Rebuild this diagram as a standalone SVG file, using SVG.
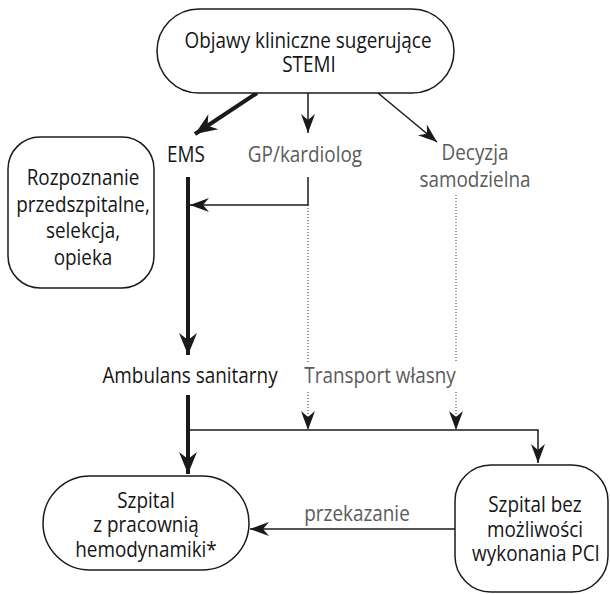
<svg xmlns="http://www.w3.org/2000/svg" width="610" height="594" viewBox="0 0 610 594">
<defs>
<style>
.box{fill:#fff;stroke:#1a1a1a;stroke-width:1.5}
.t{font-family:"Open Sans","Noto Sans","Liberation Sans",sans-serif;font-size:21px;font-weight:500;fill:#151515;text-anchor:middle}
.g{fill:#5a5a5a;font-weight:400}
.thin{fill:none;stroke:#1a1a1a;stroke-width:1.5}
.thick{fill:none;stroke:#1a1a1a;stroke-width:4}
.dot{fill:none;stroke:#333;stroke-width:1;stroke-dasharray:1 2}
</style>
<marker id="ah" markerUnits="userSpaceOnUse" markerWidth="24" markerHeight="18" viewBox="-20 -9 22 18" refX="0" refY="0" orient="auto">
<path d="M0,0 L-19,-7 L-13,0 L-19,7 Z" fill="#1a1a1a"/>
</marker>
<marker id="ahb" markerUnits="userSpaceOnUse" markerWidth="28" markerHeight="22" viewBox="-24 -11 26 22" refX="0" refY="0" orient="auto">
<path d="M0,0 L-22,-9 L-15,0 L-22,9 Z" fill="#1a1a1a"/>
</marker>
</defs>
<rect width="610" height="594" fill="#fff"/>
<g id="connectors">
<line class="thick" x1="257" y1="93" x2="195" y2="134" marker-end="url(#ahb)"/>
<line class="thin" x1="308" y1="93" x2="308" y2="133" marker-end="url(#ah)"/>
<line class="thin" x1="378" y1="93" x2="437" y2="142" marker-end="url(#ah)"/>
<line class="thick" x1="188" y1="177" x2="188" y2="355" marker-end="url(#ahb)"/>
<polyline class="thin" points="308,177 308,205 190,205" marker-end="url(#ah)"/>
<line class="dot" x1="308" y1="205" x2="308" y2="362"/>
<line class="dot" x1="308" y1="392" x2="308" y2="430" marker-end="url(#ah)"/>
<line class="dot" x1="456" y1="195" x2="456" y2="362"/>
<line class="dot" x1="456" y1="392" x2="456" y2="430" marker-end="url(#ah)"/>
<line class="thick" x1="188" y1="395" x2="188" y2="474" marker-end="url(#ahb)"/>
<polyline class="thin" points="188,430 538,430 538,463" marker-end="url(#ah)"/>
<line class="thin" x1="456" y1="529" x2="250" y2="529" marker-end="url(#ah)"/>
</g>
<g id="objawy">
<rect class="box" x="157" y="9" width="297" height="84" rx="42"/>
<text class="t" transform="translate(308,48) scale(.9,1)">Objawy kliniczne sugerujące</text>
<text class="t" transform="translate(309,72) scale(.9,1)">STEMI</text>
</g>
<g id="ems"><text class="t" transform="translate(186,162) scale(.9,1)">EMS</text></g>
<g id="gp"><text class="t g" transform="translate(305,162) scale(.9,1)">GP/kardiolog</text></g>
<g id="decyzja">
<text class="t g" transform="translate(475,160) scale(.9,1)">Decyzja</text>
<text class="t g" transform="translate(475,187) scale(.9,1)">samodzielna</text>
</g>
<g id="rozpoznanie">
<rect class="box" x="8" y="137" width="146" height="151" rx="32"/>
<text class="t" transform="translate(83,185) scale(.9,1)">Rozpoznanie</text>
<text class="t" transform="translate(83,212) scale(.9,1)">przedszpitalne,</text>
<text class="t" transform="translate(83,238) scale(.9,1)">selekcja,</text>
<text class="t" transform="translate(83,265) scale(.9,1)">opieka</text>
</g>
<g id="ambulans"><text class="t" transform="translate(190,383) scale(.9,1)">Ambulans sanitarny</text></g>
<g id="transport"><text class="t g" transform="translate(380,383) scale(.9,1)">Transport własny</text></g>
<g id="szpital-pci">
<rect class="box" x="43" y="476" width="206" height="94" rx="47"/>
<text class="t" transform="translate(146,508) scale(.9,1)">Szpital</text>
<text class="t" transform="translate(146,532) scale(.9,1)">z pracownią</text>
<text class="t" transform="translate(146,557) scale(.9,1)">hemodynamiki*</text>
</g>
<g id="szpital-bez">
<rect class="box" x="455" y="465" width="153" height="127" rx="36"/>
<text class="t" transform="translate(535,512) scale(.9,1)">Szpital bez</text>
<text class="t" transform="translate(535,537) scale(.9,1)">możliwości</text>
<text class="t" transform="translate(536,561) scale(.9,1)">wykonania PCI</text>
</g>
<g id="przekazanie"><text class="t g" transform="translate(357,521) scale(.9,1)">przekazanie</text></g>
</svg>
